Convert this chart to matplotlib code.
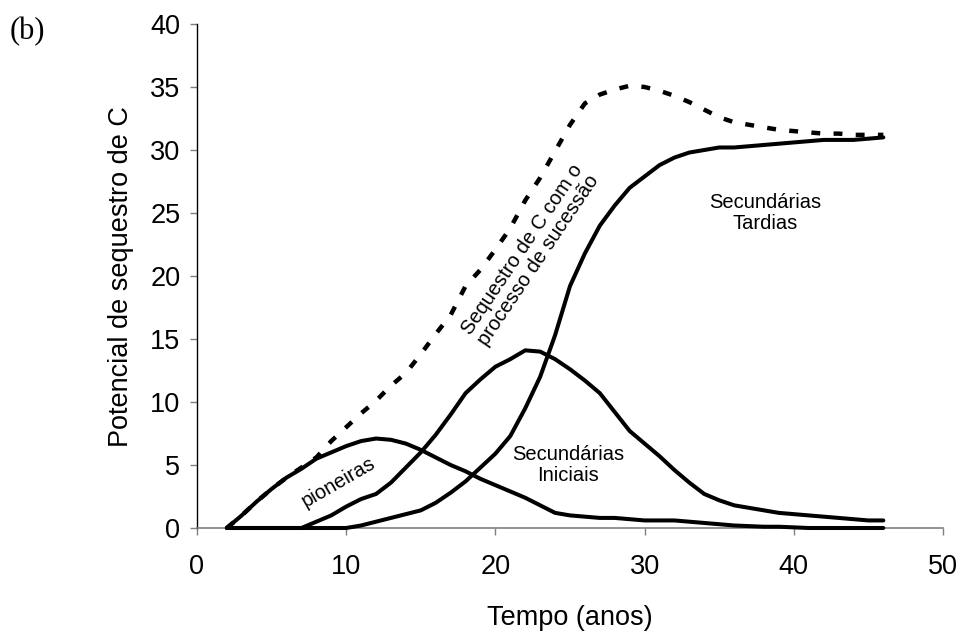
import matplotlib
matplotlib.use("Agg")
import matplotlib.pyplot as plt

plt.rcParams['font.family'] = ['Liberation Sans', 'DejaVu Sans']

anos = list(range(2, 47))

pioneiras = [0, 1.0, 2.1, 3.1, 4.0, 4.7, 5.5, 6.0, 6.5, 6.9, 7.1, 7.0, 6.7, 6.2, 5.6,
             5.0, 4.5, 3.9, 3.4, 2.9, 2.4, 1.8, 1.2, 1.0, 0.9, 0.8, 0.8, 0.7, 0.6, 0.6,
             0.6, 0.5, 0.4, 0.3, 0.2, 0.15, 0.1, 0.1, 0.05, 0, 0, 0, 0, 0, 0]

sec_iniciais = [0, 0, 0, 0, 0, 0, 0.5, 1.0, 1.7, 2.3, 2.7, 3.6, 4.8, 6.0, 7.4,
                9.0, 10.7, 11.8, 12.8, 13.4, 14.1, 14.0, 13.4, 12.6, 11.7, 10.7, 9.2, 7.7, 6.7, 5.7,
                4.6, 3.6, 2.7, 2.2, 1.8, 1.6, 1.4, 1.2, 1.1, 1.0, 0.9, 0.8, 0.7, 0.6, 0.6]

sec_tardias = [0, 0, 0, 0, 0, 0, 0, 0, 0, 0.2, 0.5, 0.8, 1.1, 1.4, 2.0,
               2.8, 3.7, 4.8, 5.9, 7.3, 9.5, 12.0, 15.3, 19.2, 21.8, 24.0, 25.6, 27.0, 27.9, 28.8,
               29.4, 29.8, 30.0, 30.2, 30.2, 30.3, 30.4, 30.5, 30.6, 30.7, 30.8, 30.8, 30.8, 30.9, 31.0]

total_sucessao = [0, 1.0, 2.1, 3.1, 4.0, 4.8, 5.6, 6.9, 8.0, 9.1, 10.1, 11.3, 12.3, 13.8, 15.4,
                  16.9, 19.2, 20.5, 22.1, 23.8, 26.0, 27.8, 29.9, 32.0, 33.7, 34.4, 34.8, 35.1, 35.0, 34.7,
                  34.3, 33.8, 33.2, 32.6, 32.2, 32.0, 31.8, 31.6, 31.5, 31.4, 31.3, 31.3, 31.2, 31.2, 31.2]

x_ticks = [0, 10, 20, 30, 40, 50]
y_ticks = [0, 5, 10, 15, 20, 25, 30, 35, 40]

W, H = 967, 635
fig = plt.figure(figsize=(W / 100, H / 100), dpi=100)
ax = fig.add_axes([197 / W, 1 - 528 / H, (943 - 197) / W, (528 - 24) / H])

ax.plot(anos, total_sucessao, color='black', lw=3.2, linestyle=(0, (2.0, 3.0)),
        dash_capstyle='butt', clip_on=False, zorder=2)
for serie in (pioneiras, sec_iniciais, sec_tardias):
    ax.plot(anos, serie, color='black', lw=2.9, solid_joinstyle='round',
            solid_capstyle='round', clip_on=False, zorder=3)

ax.set_xlim(0, 50)
ax.set_ylim(0, 40)
ax.set_xticks(x_ticks)
ax.set_yticks(y_ticks)
ax.spines['top'].set_visible(False)
ax.spines['right'].set_visible(False)
ax.spines['left'].set_color('black')
ax.spines['left'].set_linewidth(1.0)
ax.spines['bottom'].set_color('#808080')
ax.spines['bottom'].set_linewidth(1.2)
ax.tick_params(axis='both', direction='out', length=5, width=1, color='#808080',
               labelsize=19.5, labelcolor='black')
ax.tick_params(axis='y', pad=7)
ax.tick_params(axis='x', pad=14)

fig.text(121 / W, 1 - 277 / H, 'Potencial de sequestro de C', rotation=90,
         ha='center', va='center', fontsize=19.5)
fig.text(570 / W, 1 - 618 / H, 'Tempo (anos)', ha='center', va='center', fontsize=19.5)
fig.text(10 / W, 1 - 32 / H, '(b)', ha='left', va='center', fontsize=22,
         family=['Liberation Serif', 'DejaVu Serif'])

def fig_xy(px, py):
    return px / W, 1 - py / H

fig.text(*fig_xy(338, 482), 'pioneiras', rotation=30, ha='center', va='center',
         fontsize=14.5, rotation_mode='anchor')
fig.text(*fig_xy(568, 465), 'Secundárias\nIniciais', ha='center', va='center',
         fontsize=14.5, linespacing=1.1)
fig.text(*fig_xy(765, 213), 'Secundárias\nTardias', ha='center', va='center',
         fontsize=14.5, linespacing=1.1)
fig.text(*fig_xy(530, 255), 'Sequestro de C com o\nprocesso de sucessão', rotation=56,
         ha='center', va='center', fontsize=14.5, linespacing=1.05, rotation_mode='anchor')

fig.savefig('out.png', dpi=100)
